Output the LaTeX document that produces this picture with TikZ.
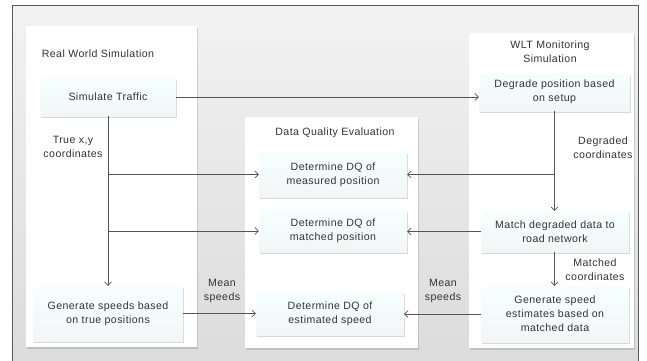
\documentclass[tikz,border=0pt]{standalone}
\usepackage{fontspec}
\setmainfont[LetterSpace=4]{Liberation Sans}
\usepackage{tikz}
\usetikzlibrary{arrows.meta,backgrounds,calc,positioning,shadows}
\definecolor{linie}{HTML}{555555}
\definecolor{schrift}{HTML}{333333}
\tikzset{
  panel/.style={fill=white,draw=none,drop shadow={opacity=0.3,shadow xshift=1pt,shadow yshift=-1.5pt}},
  kasten/.style={top color=cyan!4,bottom color=cyan!9!gray!8,draw=none,align=center,inner sep=0pt,
    drop shadow={opacity=0.3,shadow xshift=1pt,shadow yshift=-1.5pt},text=schrift},
  pfeil/.style={draw=linie,semithick,-{Straight Barb[length=3.5pt,width=7pt]}},
  beschr/.style={align=center,text=schrift,inner sep=0pt}
}
\begin{document}
\begin{tikzpicture}[x=1pt,y=-1pt,font=\fontsize{10.6}{14}\selectfont]
\useasboundingbox (0,0) rectangle (647,360);
%Hintergrund
\fill[top color=gray!10,bottom color=gray!28] (12,5) rectangle (638,366);
\draw[gray!70!black,thick] (12,366) -- (12,5) -- (638,5) -- (638,366);
%Spalten
\fill[panel] (26,26) rectangle (197,347);
\fill[panel] (245,117) rectangle (418,348);
\fill[panel] (469,33) rectangle (634,348);
\node[beschr] (rws) at (98,54) {Real World Simulation};
\node[beschr] (dqe) at (335,133) {Data Quality Evaluation};
\node[beschr] (wlt) at (550,52) {WLT\,\,Monitoring\\Simulation};
%Kaesten
\node[kasten,minimum width=136,minimum height=38] (sim) at (108,97) {Simulate Traffic};
\node[kasten,minimum width=150,minimum height=55] (gen) at (108,313.5) {Generate speeds based\\on true positions};
\node[kasten,minimum width=148,minimum height=45] (dqm) at (333,174.5) {Determine DQ of\\measured position};
\node[kasten,minimum width=148,minimum height=42] (dqa) at (333,231) {Determine DQ of\\matched position};
\node[kasten,minimum width=148,minimum height=43] (dqs) at (330,313.5) {Determine DQ of\\estimated speed};
\node[kasten,minimum width=151,minimum height=38] (deg) at (554.5,92) {Degrade position based\\on setup};
\node[kasten,minimum width=148,minimum height=41] (mat) at (555,231.5) {Match degraded data to\\road network};
\node[kasten,minimum width=148,minimum height=56] (est) at (555,314) {Generate speed\\estimates based on\\matched data};
%Verbindungen
\draw[pfeil] (sim.east) -- (sim.east -| deg.west);
\draw[pfeil] (sim.south) -- (gen.north);
\draw[pfeil] (sim.south |- dqm.west) -- (dqm.west);
\draw[pfeil] (sim.south |- dqa.west) -- (dqa.west);
\draw[pfeil] (deg.south) -- (deg.south |- mat.north);
\draw[pfeil] (deg.south |- dqm.east) -- (dqm.east);
\draw[pfeil] (mat.west) -- (mat.west -| dqa.east);
\draw[pfeil] (mat.south -| deg.south) -- (deg.south |- est.north);
\draw[pfeil] (gen.east) -- (gen.east -| dqs.west);
\draw[pfeil] (est.west) -- (est.west -| dqs.east);
%Beschriftungen
\node[beschr] (xy) at (73,147) {True x,y\\coordinates};
\node[beschr] (dc) at (603,148) {Degraded\\coordinates};
\node[beschr] (mc) at (595,270) {Matched\\coordinates};
\node[beschr] (ms1) at (222,291) {Mean\\speeds};
\node[beschr] (ms2) at (443,291) {Mean\\speeds};
\end{tikzpicture}
\end{document}
